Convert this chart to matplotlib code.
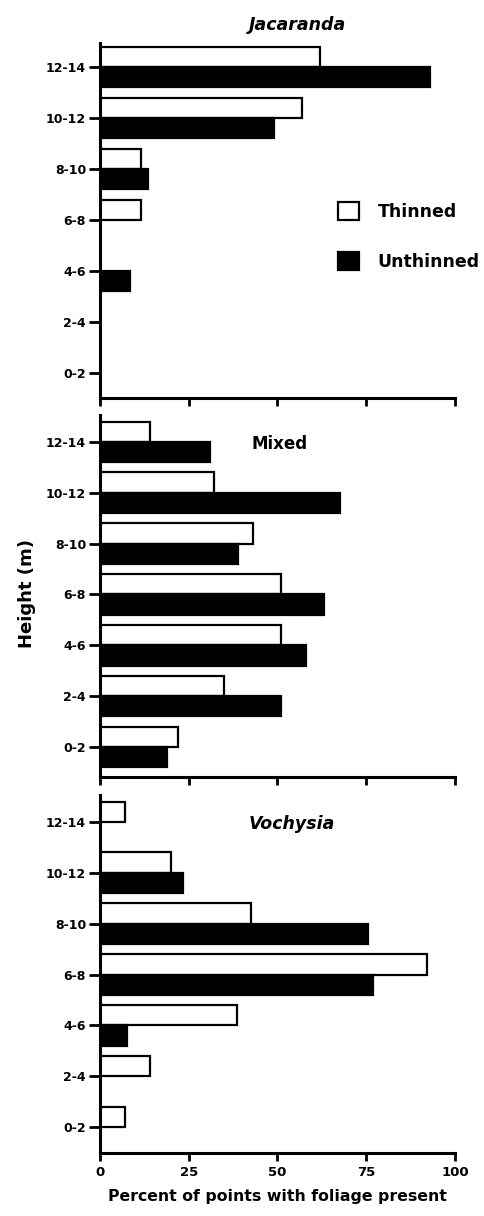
import numpy as np
import matplotlib
matplotlib.use("Agg")
import matplotlib.pyplot as plt

heights = ["0-2", "2-4", "4-6", "6-8", "8-10", "10-12", "12-14"]

# percent of points with foliage, listed from 0-2 m up to 12-14 m
jac_thinned = [0, 0, 0, 11.5, 11.5, 57, 62]
jac_unthinned = [0, 0, 8.5, 0, 13.5, 49, 93]
mix_thinned = [22, 35, 51, 51, 43, 32, 14]
mix_unthinned = [19, 51, 58, 63, 39, 67.5, 31]
voc_thinned = [7, 14, 38.5, 92, 42.5, 20, 7]
voc_unthinned = [0, 0, 7.5, 77, 75.5, 23.5, 0]

plt.rcParams['font.family'] = ['DejaVu Sans']
plt.rcParams['font.weight'] = 'bold'

W, H = 485, 1216
fig = plt.figure(figsize=(W / 100, H / 100), dpi=100)

# (top px, bottom px, ylim)
panels = [
    (43, 398, (-0.49, 6.47), jac_thinned, jac_unthinned),
    (415, 777, (-0.59, 6.53), mix_thinned, mix_unthinned),
    (795, 1153, (-0.51, 6.53), voc_thinned, voc_unthinned),
]

left, right = 100, 455
axes = []
y = np.arange(len(heights))
for top, bot, ylim, thin, unthin in panels:
    ax = fig.add_axes([left / W, 1 - bot / H, (right - left) / W, (bot - top) / H])
    ax.barh(y + 0.2, thin, height=0.4, color='white', edgecolor='black',
            linewidth=1.6, label='Thinned')
    ax.barh(y - 0.2, unthin, height=0.4, color='black', edgecolor='black',
            linewidth=1.6, label='Unthinned')
    ax.set_xlim(0, 100)
    ax.set_ylim(*ylim)
    ax.set_yticks(y)
    ax.set_yticklabels(heights, fontsize=9, fontweight='bold')
    ax.set_xticks([0, 25, 50, 75, 100])
    ax.spines['top'].set_visible(False)
    ax.spines['right'].set_visible(False)
    ax.spines['left'].set_linewidth(2.2)
    ax.spines['bottom'].set_linewidth(2.2)
    ax.tick_params(axis='y', length=8, width=2, pad=2)
    ax.tick_params(axis='x', length=6, width=2)
    axes.append(ax)

ax1, ax2, ax3 = axes
ax1.set_xticklabels([])
ax2.set_xticklabels([])
ax3.set_xticklabels(['0', '25', '50', '75', '100'], fontsize=9.5, fontweight='bold')
ax3.set_xlabel('Percent of points with foliage present', fontsize=11.3,
               fontweight='bold', labelpad=7)

ax1.set_title('Jacaranda', fontsize=12.5, fontweight='bold', style='italic',
              x=0.555, pad=9)
ax2.text(0.505, 0.92, 'Mixed', transform=ax2.transAxes, fontsize=12,
         fontweight='bold', ha='center', va='center')
ax3.text(0.54, 0.92, 'Vochysia', transform=ax3.transAxes, fontsize=12.5,
         fontweight='bold', style='italic', ha='center', va='center')

fig.text(27 / W, 1 - 593 / H, 'Height (m)', rotation=90, fontsize=13,
         fontweight='bold', ha='center', va='center')

h, l = ax1.get_legend_handles_labels()
ax1.legend(h, l, loc='upper left', bbox_to_anchor=(0.67, 0.552), frameon=False,
           fontsize=12.5, handlelength=1.2, handleheight=1.2, labelspacing=1.8,
           handletextpad=1.1, borderpad=0, borderaxespad=0)

fig.savefig('out.png', dpi=100)
